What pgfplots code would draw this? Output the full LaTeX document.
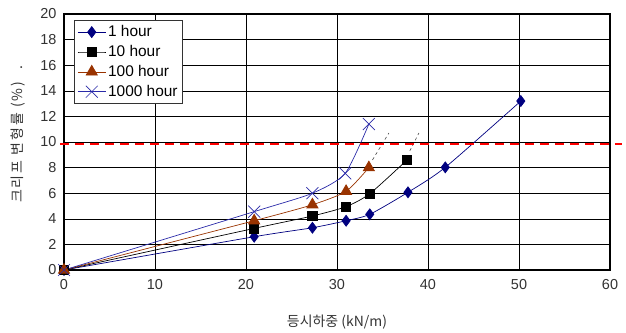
\documentclass[border=0pt]{standalone}
\usepackage{pgfplots}
\pgfplotsset{compat=1.18}
\usepackage{fontspec}
\setmainfont{Liberation Sans}
\newfontfamily\kr{Noto Sans CJK KR}
\newfontfamily\krsp[LetterSpace=14]{Noto Sans CJK KR}
\definecolor{navyb}{HTML}{000080}
\definecolor{blueX}{HTML}{2A2AA8}
\definecolor{brownT}{HTML}{993300}
\begin{document}
\begin{tikzpicture}
\begin{axis}[
  scale only axis,
  width=546bp, height=256bp,
  xmin=0, xmax=60, ymin=0, ymax=20,
  xtick={0,10,...,60}, ytick={0,2,...,20},
  grid=major,
  major grid style={black, line width=0.6pt},
  axis line style={black, line width=1.4pt},
  tick style={draw=none},
  /pgf/number format/assume math mode=true,
  tick label style={font=\fontsize{14.5}{16}\selectfont, color=black!80},
  xticklabel style={yshift=-6bp},
  yticklabel style={xshift=-4bp},
  xlabel={\kr 등시하중 (kN/m)},
  ylabel={\krsp 크리프 변형률 (\%)\hspace{12bp}.},
  xlabel style={font=\fontsize{14}{16}\selectfont, color=black!80, at={(axis description cs:0.5,0)}, anchor=center, yshift=-52bp},
  ylabel style={font=\fontsize{14}{16}\selectfont, color=black!80, at={(axis description cs:0,0.53)}, anchor=center, yshift=46bp},
  legend style={at={(axis cs:1.1,19.5)}, anchor=north west, draw=black!80, line width=0.8pt,
    font=\fontsize{15.5}{17}\selectfont, row sep=3.2bp, inner xsep=3bp, inner ysep=3bp},
  legend image code/.code={\draw[mark repeat=2, mark phase=2, line width=0.7pt]
    plot coordinates {(0bp,0bp) (14bp,0bp) (28bp,0bp)};},
  legend cell align=left,
  clip=false,
]
% creep strain against isochronous load
\addplot[navyb, line width=0.7pt, smooth, tension=0.4, mark=diamond*, mark size=5.5pt, mark options={solid, fill=navyb}]
  coordinates {(0,0) (20.9,2.6) (27.3,3.3) (31.0,3.85) (33.6,4.35) (37.8,6.07) (41.9,8.02) (50.2,13.2)};
\addlegendentry{1 hour}
\addplot[black, line width=0.7pt, smooth, tension=0.4, mark=square*, mark size=4.6pt, mark options={solid, fill=black}]
  coordinates {(0,0) (20.9,3.25) (27.3,4.22) (31.0,4.95) (33.6,5.96) (37.7,8.6)};
\addlegendentry{10 hour}
\addplot[brownT, line width=0.7pt, smooth, tension=0.4, mark=triangle*, mark size=6.5pt, mark options={solid, fill=brownT}]
  coordinates {(0,0) (20.9,3.85) (27.3,5.1) (31.0,6.15) (33.5,8.0)};
\addlegendentry{100 hour}
\addplot[blueX, line width=0.7pt, smooth, tension=0.4, mark=x, mark size=8.5pt, mark options={solid, line width=0.7pt}]
  coordinates {(0,0) (20.9,4.56) (27.3,6.0) (30.9,7.55) (33.5,11.4)};
\addlegendentry{1000 hour}
% extrapolation to the strain limit
\addplot[black!70, dashed, line width=0.6pt, forget plot] coordinates {(33.9,8.6) (35.7,10.7)};
\addplot[black!70, dashed, line width=0.6pt, forget plot] coordinates {(38.0,9.3) (39.0,10.7)};
% 10 % strain limit
\addplot[red, line width=1.6pt, dash pattern=on 9bp off 6bp, forget plot] coordinates {(-0.45,9.85) (61.3,9.85)};
\end{axis}
\pgfresetboundingbox
\path[use as bounding box] (-64bp,-63bp) rectangle (562bp,270bp);
\end{tikzpicture}
\end{document}
